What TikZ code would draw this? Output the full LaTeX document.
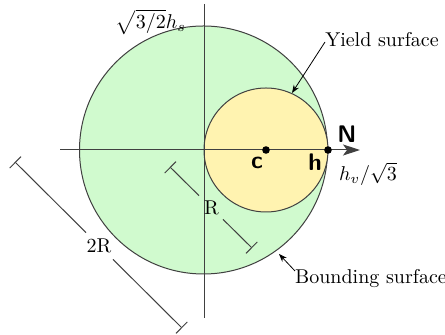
\documentclass[tikz,border=0pt]{standalone}
\usetikzlibrary{arrows.meta,calc}
\definecolor{bgreen}{RGB}{208,250,206}
\definecolor{yyellow}{RGB}{255,243,176}
\definecolor{lnc}{RGB}{64,64,64}
\begin{document}
\begin{tikzpicture}[x=0.5pt,y=-0.5pt,
  outline/.style={draw=lnc,line width=0.5pt},
  axisline/.style={draw=lnc,line width=0.5pt},
  dimline/.style={draw=lnc,line width=0.5pt},
  annot/.style={draw=black,line width=0.4pt,-{Stealth[length=4pt,width=3pt]}},
  dotpt/.style={circle,fill=black,inner sep=0pt,minimum size=3.8pt},
  boldlab/.style={font=\sffamily\bfseries\large},
  txt/.style={inner sep=0pt}]
\useasboundingbox (0,0) rectangle (445,335);
% circles
\node[circle,outline,fill=bgreen,minimum size=124pt,inner sep=0pt] (big) at (203.5,150) {};
\node[circle,outline,fill=yyellow,minimum size=62pt,inner sep=0pt] (yield) at (266,150) {};
% axes
\coordinate (xl) at (60,150);
\coordinate (xr) at (360,150);
\coordinate (yt) at (204,4);
\coordinate (yb) at (204,318);
\draw[axisline,-{Stealth[length=8.5pt,width=5.5pt,inset=2pt]}] (xl) -- (xr);
\draw[axisline] (yt) -- (yb);
% dots
\node[dotpt] (c) at (266,150) {};
\node[dotpt] (h) at (328,150) {};
\node[boldlab,txt] (clab) at (257,163) {c};
\node[boldlab,txt] (hlab) at (315,162) {h};
\node[boldlab,txt] (nlab) at (347,134) {N};
% math labels
\node[txt] (hv) at (368,174) {$h_v/\sqrt{3}$};
\node[txt] (hs) at (151,22) {$\sqrt{3/2}h_s$};
% annotations
\node[txt] (ylab) at (382,40) {Yield surface};
\node[txt] (blab) at (371,279) {Bounding surface};
\coordinate (yfrom) at (325,42);
\coordinate (yto) at (292,93);
\coordinate (bfrom) at (295,271);
\coordinate (bto) at (279,254);
\draw[annot] (yfrom) -- (yto);
\draw[annot] (bfrom) -- (bto);
% R dimension
\coordinate (r1) at (170,167);
\coordinate (r2) at (252,248);
\draw[dimline,{Bar[width=8pt]}-] (r1) -- ($(r1)!0.354!(r2)$);
\draw[dimline,-{Bar[width=8pt]}] ($(r1)!0.646!(r2)$) -- (r2);
\node[txt] (rlab) at (211.5,208) {R};
% 2R dimension
\coordinate (s1) at (15,162);
\coordinate (s2) at (182,328);
\draw[dimline,{Bar[width=8pt]}-] (s1) -- ($(s1)!0.425!(s2)$);
\draw[dimline,-{Bar[width=8pt]}] ($(s1)!0.587!(s2)$) -- (s2);
\node[txt] (srlab) at (99,246) {2R};
\end{tikzpicture}
\end{document}
